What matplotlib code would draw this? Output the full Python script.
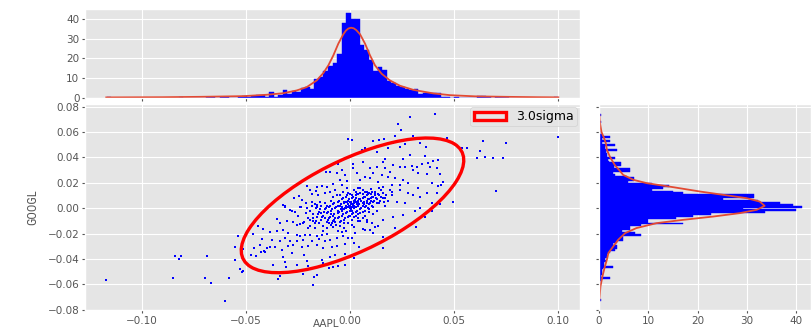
import numpy as np
import matplotlib
matplotlib.use("Agg")
import matplotlib.pyplot as plt
from matplotlib.patches import Ellipse
from matplotlib import font_manager

# ---------------- data ----------------
# scatter points (AAPL return, GOOGL return)
outlier_pts = [
    (-0.117, -0.057), (-0.084, -0.038), (-0.082, -0.040), (-0.081, -0.038), (-0.085, -0.055),
    (-0.0686, -0.038), (-0.0696, -0.055), (-0.0669, -0.059), (-0.058, -0.055), (-0.060, -0.0735),
    (-0.055, -0.041), (-0.0536, -0.0223), (-0.053, -0.048), (-0.0518, -0.050), (-0.055, -0.0304),
    (0.1000, 0.0563), (0.0747, 0.0516), (0.0701, 0.0139), (0.0640, 0.0527), (0.0624, 0.0451),
    (0.0648, 0.0401), (0.0608, 0.0393), (0.0688, 0.0393), (0.0733, 0.0393), (0.0536, 0.0477),
    (0.0560, 0.0477), (0.0496, 0.0047), (-0.0176, -0.0603), (-0.0157, -0.0529),
]
upper_left_pts = [
    (-0.0008, 0.0542), (-0.0056, 0.0346), (-0.0040, 0.0301), (-0.0064, 0.0275), (-0.0096, 0.0288),
    (-0.0115, 0.0283), (-0.0024, 0.0262), (-0.0013, 0.0215), (-0.0048, 0.0223), (-0.0040, 0.0183),
    (-0.0083, 0.0194), (-0.0112, 0.0170), (-0.0136, 0.0176), (-0.0160, 0.0170), (-0.0163, 0.0136),
    (-0.0192, 0.0144), (-0.0205, 0.0176), (-0.0184, 0.0110), (-0.0152, 0.0105), (-0.0120, 0.0118),
    (-0.0096, 0.0126), (-0.0072, 0.0144), (-0.0061, 0.0105), (-0.0032, 0.0131), (-0.0016, 0.0157),
    (-0.0243, 0.0097), (-0.0269, 0.0079), (-0.0232, 0.0066), (-0.0211, 0.0039), (-0.0184, 0.0045),
    (-0.0160, 0.0026), (-0.0144, 0.0052), (-0.0320, 0.0026), (-0.0312, 0.0013), (-0.0240, 0.0013),
]
upper_right_pts = [
    (0.0408, 0.0741), (0.0288, 0.0718), (0.0232, 0.0663), (0.0245, 0.0616), (0.0216, 0.0571),
    (0.0165, 0.0545), (0.0141, 0.0540), (0.0112, 0.0529), (0.0304, 0.0571), (0.0336, 0.0516),
    (0.0376, 0.0550), (0.0467, 0.0550), (0.0365, 0.0485), (0.0208, 0.0511), (0.0184, 0.0477),
    (0.0240, 0.0485), (0.0264, 0.0503), (0.0072, 0.0477), (0.0056, 0.0459), (0.0088, 0.0459),
    (0.0128, 0.0440), (0.0008, 0.0537), (0.0288, 0.0419), (0.0360, 0.0414), (0.0256, 0.0385),
    (0.0168, 0.0385), (0.0064, 0.0362), (0.0016, 0.0346), (0.0013, 0.0320), (0.0160, 0.0367),
    (0.0208, 0.0341), (0.0240, 0.0328), (0.0264, 0.0322), (0.0296, 0.0335), (0.0320, 0.0328),
    (0.0344, 0.0346), (0.0376, 0.0354), (0.0397, 0.0372), (0.0424, 0.0380), (0.0384, 0.0328),
    (0.0416, 0.0320), (0.0096, 0.0320), (0.0128, 0.0328), (0.0168, 0.0314), (0.0192, 0.0288),
    (0.0304, 0.0301), (0.0328, 0.0275), (0.0368, 0.0270), (0.0432, 0.0267), (0.0448, 0.0210),
    (0.0392, 0.0196), (0.0424, 0.0178), (0.0435, 0.0183), (0.0328, 0.0157), (0.0416, 0.0118),
    (0.0368, 0.0118), (0.0280, 0.0118), (0.0240, 0.0144), (0.0200, 0.0131), (0.0160, 0.0170),
    (0.0136, 0.0210), (0.0096, 0.0236), (0.0072, 0.0249), (0.0048, 0.0223), (0.0032, 0.0275),
    (0.0112, 0.0275), (0.0152, 0.0262), (0.0184, 0.0249), (0.0216, 0.0236), (0.0256, 0.0223),
    (0.0280, 0.0196), (0.0240, 0.0183), (0.0200, 0.0183), (0.0304, 0.0105), (0.0336, 0.0084),
    (0.0392, 0.0039), (0.0432, 0.0031), (0.0264, 0.0039), (0.0224, 0.0052), (0.0168, 0.0079),
    (0.0120, 0.0105), (0.0080, 0.0131), (0.0040, 0.0157),
]
lower_left_pts = [
    (-0.0352, -0.0084), (-0.0312, 0.0016), (-0.0288, -0.0013), (-0.0280, -0.0021), (-0.0264, -0.0034),
    (-0.0248, -0.0060), (-0.0237, 0.0013), (-0.0205, 0.0005), (-0.0184, 0.0018), (-0.0163, 0.0),
    (-0.0336, -0.0118), (-0.0304, -0.0105), (-0.0272, -0.0110), (-0.0256, -0.0131), (-0.0240, -0.0126),
    (-0.0224, -0.0118), (-0.0192, -0.0092), (-0.0176, -0.0079), (-0.0440, -0.0144), (-0.0416, -0.0162),
    (-0.0384, -0.0189), (-0.0352, -0.0178), (-0.0320, -0.0170), (-0.0296, -0.0197), (-0.0256, -0.0210),
    (-0.0240, -0.0223), (-0.0216, -0.0215), (-0.0192, -0.0210), (-0.0160, -0.0223), (-0.0136, -0.0215),
    (-0.0112, -0.0204), (-0.0464, -0.0204), (-0.0424, -0.0244), (-0.0376, -0.0249), (-0.0336, -0.0262),
    (-0.0312, -0.0236), (-0.0288, -0.0262), (-0.0256, -0.0257), (-0.0224, -0.0249), (-0.0184, -0.0262),
    (-0.0147, -0.0244), (-0.0120, -0.0262), (-0.0096, -0.0249), (-0.0064, -0.0236), (-0.0032, -0.0223),
    (-0.0008, -0.0236), (-0.0512, -0.0320), (-0.0461, -0.0314), (-0.0432, -0.0288), (-0.0411, -0.0335),
    (-0.0384, -0.0309), (-0.0360, -0.0309), (-0.0328, -0.0328), (-0.0296, -0.0301), (-0.0272, -0.0288),
    (-0.0232, -0.0309), (-0.0200, -0.0301), (-0.0160, -0.0288), (-0.0128, -0.0314), (-0.0088, -0.0309),
    (-0.0064, -0.0301), (-0.0024, -0.0283), (-0.0475, -0.0372), (-0.0408, -0.0348), (-0.0320, -0.0385),
    (-0.0280, -0.0354), (-0.0221, -0.0372), (-0.0208, -0.0414), (-0.0136, -0.0406), (-0.0096, -0.0388),
    (-0.0072, -0.0367), (-0.0024, -0.0362), (-0.0312, -0.0424), (-0.0307, -0.0464), (-0.0256, -0.0445),
    (-0.0200, -0.0453), (-0.0128, -0.0432), (-0.0102, -0.0472), (-0.0080, -0.0466), (-0.0056, -0.0453),
    (-0.0024, -0.0451), (-0.0368, -0.0445), (-0.0336, -0.0537), (-0.0344, -0.0558), (-0.0224, -0.0519),
    (-0.0171, -0.0545), (-0.0512, -0.0498), (-0.0450, -0.0380), (-0.0427, -0.0346), (-0.0400, -0.0315),
]
lower_right_pts = [
    (0.0008, -0.0136), (0.0019, -0.0152), (0.0064, -0.0162), (0.0072, -0.0170), (0.0096, -0.0170),
    (0.0120, -0.0149), (0.0136, -0.0139), (0.0112, -0.0197), (0.0157, -0.0228), (0.0160, -0.0314),
    (0.0216, -0.0157), (0.0315, -0.0152), (0.0256, -0.0052), (0.0312, -0.0026), (0.0336, 0.0005),
    (0.0392, -0.0026), (0.0360, -0.0071), (0.0208, -0.0071), (0.0160, -0.0092), (0.0104, -0.0118),
    (0.0080, -0.0110), (0.0048, -0.0100), (0.0024, -0.0197), (0.0008, -0.0236), (0.0019, -0.0275),
    (0.0045, -0.0309), (0.0019, -0.0393),
]
core_pts = [
    (-0.010, -0.008), (-0.008, -0.006), (-0.006, -0.004), (-0.004, -0.002), (-0.002, 0.000),
    (0.000, 0.002), (0.002, 0.004), (0.004, 0.006), (0.006, 0.008), (0.008, 0.010),
    (-0.011, -0.004), (-0.009, -0.002), (-0.007, 0.000), (-0.005, 0.002), (-0.003, 0.004),
    (-0.001, 0.006), (0.001, 0.008), (0.003, 0.010), (0.005, 0.012),
    (-0.008, -0.010), (-0.006, -0.008), (-0.004, -0.006), (-0.002, -0.004), (0.000, -0.002),
    (0.002, 0.000), (0.004, 0.002), (0.006, 0.004), (0.008, 0.006), (0.010, 0.008), (0.012, 0.010),
    (-0.012, -0.001), (-0.010, 0.001), (-0.008, 0.003), (-0.006, 0.005), (-0.004, 0.007),
    (-0.002, 0.009), (0.000, 0.011),
    (-0.005, -0.011), (-0.003, -0.009), (-0.001, -0.007), (0.001, -0.005), (0.003, -0.003),
    (0.005, -0.001), (0.007, 0.001), (0.009, 0.003), (0.011, 0.005), (0.013, 0.007),
    (-0.001, 0.001), (0.001, 0.003), (0.003, 0.005), (-0.003, -0.001), (0.001, 0.001),
    (0.003, 0.001), (-0.001, 0.003), (0.002, 0.006), (0.000, 0.005), (0.004, 0.004),
    (0.002, 0.002), (-0.002, 0.002), (0.000, 0.000), (0.005, 0.007), (0.007, 0.009),
    (-0.004, 0.001), (0.006, 0.002), (-0.006, -0.002), (0.008, 0.004), (0.010, 0.006),
    (-0.009, -0.005), (0.012, 0.013), (0.009, 0.012), (-0.007, -0.008), (0.006, -0.003),
    (0.004, -0.005), (-0.003, 0.005), (-0.006, 0.002),
    (0.015, 0.009), (0.014, 0.004), (0.011, 0.001), (0.016, 0.012), (-0.013, -0.006),
    (-0.015, -0.003), (-0.014, -0.009), (-0.011, -0.011), (0.007, 0.013), (0.003, 0.013),
    (-0.001, 0.012), (0.018, 0.006), (0.017, 0.002), (0.013, -0.002), (-0.016, 0.001),
    (-0.018, -0.005), (-0.012, 0.004), (-0.009, 0.006), (0.009, -0.003), (0.001, -0.009),
    (-0.003, -0.012), (0.004, -0.008), (0.007, -0.006), (0.011, -0.005),
    (-0.020, -0.008), (-0.017, -0.012), (0.020, 0.010), (0.019, 0.014), (-0.008, 0.009),
    (-0.005, 0.010), (0.014, 0.016), (0.010, 0.015), (0.005, 0.016), (-0.019, -0.002),
    (-0.019, -0.014), (-0.017, -0.016), (-0.015, -0.012), (-0.013, -0.014), (-0.011, -0.016),
    (-0.009, -0.013), (-0.007, -0.011), (-0.005, -0.014), (-0.003, -0.016), (-0.001, -0.012),
    (-0.016, -0.007), (-0.014, -0.004), (-0.012, -0.008), (-0.010, -0.012), (-0.008, -0.015),
    (-0.006, -0.018), (-0.004, -0.019), (-0.002, -0.018), (-0.013, -0.018), (-0.018, -0.010),
    (-0.020, -0.016), (-0.022, -0.011), (-0.021, -0.004), (-0.017, 0.003), (-0.014, 0.002),
    (-0.011, 0.002), (0.002, 0.014), (0.004, 0.011), (0.006, 0.014), (0.008, 0.013),
    (0.010, 0.011), (0.012, 0.012), (0.014, 0.010), (0.016, 0.008), (0.013, 0.004),
    (0.011, 0.009), (0.009, 0.007), (0.015, 0.014), (0.006, 0.011), (0.001, 0.010),
    (0.003, 0.008), (0.001, -0.002), (0.003, -0.006), (0.005, -0.004), (0.007, -0.002),
    (0.002, -0.007), (0.006, -0.008), (0.008, -0.009), (0.009, -0.001), (0.004, -0.010),
    (0.000, -0.006),
]
dense_center_pts = [
    (-0.0095, -0.007), (-0.0075, -0.005), (-0.0055, -0.003), (-0.0035, -0.001), (-0.0015, 0.001),
    (0.0005, 0.003), (0.0025, 0.005), (0.0045, 0.007), (0.0065, 0.009), (0.0085, 0.011),
    (-0.0105, -0.003), (-0.0085, -0.001), (-0.0065, 0.001), (-0.0045, 0.003), (-0.0025, 0.005),
    (-0.0005, 0.007), (0.0015, 0.009), (0.0035, 0.011),
    (-0.0075, -0.009), (-0.0055, -0.007), (-0.0035, -0.005), (-0.0015, -0.003), (0.0005, -0.001),
    (0.0025, 0.001), (0.0045, 0.003), (0.0065, 0.005), (0.0085, 0.007), (0.0105, 0.009),
    (-0.0045, -0.010), (-0.0025, -0.008), (-0.0005, -0.006), (0.0015, -0.004), (0.0035, -0.002),
    (0.0055, 0.000), (0.0075, 0.002), (0.0095, 0.004), (0.0115, 0.006),
    (-0.0115, 0.000), (-0.0095, 0.002), (-0.0075, 0.004), (-0.0055, 0.006), (-0.0035, 0.008),
    (-0.0015, 0.010), (-0.0005, 0.0015), (0.0015, 0.0025), (0.0005, 0.0045), (-0.0025, 0.0005),
    (0.0035, 0.0035), (0.0025, 0.0065), (-0.0015, 0.0045), (0.0055, 0.0055), (-0.0045, -0.0005),
    (0.0065, 0.0035), (-0.0135, -0.007), (-0.0125, -0.003), (-0.0145, -0.001), (0.0125, 0.008),
    (0.0135, 0.011), (0.0145, 0.006), (0.0105, 0.013), (-0.0105, -0.009), (-0.0085, -0.012),
    (0.0085, 0.0005), (0.0105, 0.002), (-0.0065, -0.013), (0.0175, 0.010), (0.0165, 0.005),
    (-0.0165, -0.010), (-0.0155, -0.005),
]

# marginal histogram densities (100 bins over the data range)
aapl_range = (-0.1168, 0.1000)
aapl_density = [
    0.45, 0, 0, 0, 0, 0, 0, 0, 0, 0,
    0, 0, 0, 0, 0, 0, 0.45, 0, 0, 0,
    0, 0, 0.45, 0.45, 0, 0.45, 0.45, 0, 0, 0.45,
    0.9, 0.45, 0.9, 1.4, 1.4, 0.45, 2.6, 0.45, 1.4, 3.9,
    1.7, 3.2, 2.9, 4.6, 5.6, 4.3, 9.2, 10.3, 13.3, 15.9,
    17.6, 22.0, 38.0, 43.0, 40.0, 40.0, 26.7, 24.1, 19.3, 13.5,
    15.4, 13.8, 8.4, 7.4, 6.0, 5.3, 4.3, 3.6, 4.4, 1.9,
    2.4, 2.4, 2.4, 2.4, 0.45, 0.45, 0, 0.45, 0, 0,
    0, 0, 0.9, 0.9, 0.45, 0, 0.45, 0.45, 0.45, 0,
    0, 0, 0, 0, 0, 0, 0, 0, 0, 0.45,
]
googl_range = (-0.0735, 0.0745)
googl_density_top_down = [
    0.5, 0, 0, 0, 0.5, 0, 0, 0, 0, 0.3,
    0.3, 0.7, 2.2, 0.7, 2.2, 0.7, 3.2, 1.2, 1.2, 3.6,
    1.4, 1.6, 1.6, 3.2, 1.9, 2.1, 4.4, 4.4, 3.0, 6.3,
    6.3, 2.8, 3.2, 5.6, 7.0, 7.0, 5.9, 10.7, 14.1, 13.0,
    10.7, 15.0, 17.1, 31.4, 31.4, 25.2, 32.2, 36.7, 39.3, 41.1,
    29.3, 40.0, 33.6, 22.8, 19.1, 15.7, 10.0, 10.0, 17.1, 8.6,
    6.3, 6.3, 4.6, 7.3, 8.6, 4.9, 4.9, 4.9, 3.6, 2.9,
    3.6, 3.6, 3.2, 2.2, 1.9, 1.6, 1.6, 1.2, 1.4, 1.0,
    1.0, 2.8, 0.9, 0.7, 0.7, 0.7, 0.5, 2.2, 0.5, 0.3,
    0.3, 0.3, 0, 0, 0, 0, 0, 0, 0, 0.5,
]

# fitted density curves
aapl_curve_x = [-0.117, -0.09, -0.072, -0.0512, -0.040, -0.032, -0.0256, -0.0208, -0.016,
                -0.0128, -0.0104, -0.008, -0.0056, -0.0032, -0.002, -0.0008, 0.0005, 0.0018,
                0.003, 0.0048, 0.0072, 0.0096, 0.012, 0.0152, 0.0192, 0.024, 0.0304, 0.040,
                0.048, 0.060, 0.075, 0.09, 0.100]
aapl_curve_y = [0.05, 0.15, 0.35, 0.7, 1.4, 2.2, 3.6, 5.3, 8.7,
                12.5, 16.4, 21.5, 27.5, 32.3, 34.1, 35.2, 35.6, 35.3,
                34.4, 32.3, 27.5, 21.5, 16.4, 12.1, 8.7, 6.0, 3.9, 2.1,
                1.2, 0.6, 0.35, 0.15, 0.08]
googl_curve_y = [0.0734, 0.067, 0.060, 0.0555, 0.051, 0.046, 0.0406, 0.034, 0.030, 0.0262,
                 0.0223, 0.0197, 0.0165, 0.0131, 0.0105, 0.0079, 0.0052, 0.0018, -0.0013,
                 -0.0039, -0.0066, -0.0092, -0.0118, -0.0157, -0.0197, -0.0249, -0.0301,
                 -0.0354, -0.0406, -0.0459, -0.0537, -0.0616, -0.072]
googl_curve_x = [0.07, 0.2, 0.5, 1.0, 1.4, 1.6, 2.2, 3.2, 4.1, 4.9,
                 7.0, 9.7, 15.1, 20.5, 25.2, 29.9, 32.6, 33.6, 32.0,
                 28.6, 23.2, 17.1, 11.7, 7.6, 5.3, 3.9, 2.9,
                 1.9, 1.6, 1.2, 0.7, 0.3, 0.07]

# covariance ellipse statistics
mean_aapl, mean_googl = 0.0012, 0.0022
std_aapl, std_googl = 0.0178, 0.0177
corr = 0.67
n_sigma = 3.0

# ---------------- figure ----------------
plt.style.use("ggplot")
plt.rcParams["font.family"] = ["DejaVu Sans"]

installed = {f.name for f in font_manager.fontManager.ttflist}
narrow = [f for f in ("Liberation Sans Narrow", "Roboto Condensed", "DejaVu Sans Condensed") if f in installed]
ylabel_family = narrow + ["DejaVu Sans"]

fig = plt.figure(figsize=(8.11, 3.30), dpi=100)
ax = fig.add_axes([0.1048, 0.0606, 0.6104, 0.6242])
ax_top = fig.add_axes([0.1048, 0.7045, 0.6104, 0.2682], sharex=ax)
ax_right = fig.add_axes([0.7386, 0.0606, 0.2614, 0.6242], sharey=ax)

pts = (outlier_pts + upper_left_pts + upper_right_pts + lower_left_pts + lower_right_pts
       + core_pts + dense_center_pts)
xs = np.array([p[0] for p in pts])
ys = np.array([p[1] for p in pts])
ax.scatter(xs, ys, s=4.5, marker="s", color="b", linewidths=0, zorder=3)

cov = np.array([[std_aapl ** 2, corr * std_aapl * std_googl],
                [corr * std_aapl * std_googl, std_googl ** 2]])
vals, vecs = np.linalg.eigh(cov)
angle = np.degrees(np.arctan2(vecs[1, 1], vecs[0, 1]))
ell = Ellipse((mean_aapl, mean_googl), 2 * n_sigma * np.sqrt(vals[1]), 2 * n_sigma * np.sqrt(vals[0]),
              angle=angle, facecolor="none", edgecolor="red", linewidth=2.4, zorder=4,
              label=f"{n_sigma}sigma")
ax.add_patch(ell)
leg = ax.legend(loc="upper right", fontsize=9, borderpad=0.25, handlelength=2.6,
                handleheight=0.6, borderaxespad=0.25, framealpha=0.8)
leg.get_frame().set_edgecolor("#cccccc")

ax.set_xlim(-0.1272, 0.1104)
ax.set_ylim(-0.0803, 0.0821)
ax.set_xticks([-0.10, -0.05, 0.00, 0.05, 0.10])
ax.set_yticks([-0.08, -0.06, -0.04, -0.02, 0.00, 0.02, 0.04, 0.06, 0.08])
xl = ax.set_xlabel("AAPL", fontsize=7.5)
xl.set_verticalalignment("bottom")
ax.xaxis.set_label_coords(0.487, -0.094)
ax.set_ylabel("GOOGL", fontsize=9, labelpad=6, family=ylabel_family)

# top marginal
edges_a = np.linspace(aapl_range[0], aapl_range[1], len(aapl_density) + 1)
ax_top.bar(edges_a[:-1], aapl_density, width=np.diff(edges_a), align="edge",
           color="b", edgecolor="b", linewidth=0.3)
ax_top.plot(aapl_curve_x, aapl_curve_y, color="#E24A33", linewidth=1.3)
ax_top.set_ylim(0, 45.15)
ax_top.set_yticks([0, 10, 20, 30, 40])
ax_top.tick_params(labelbottom=False)

# right marginal
edges_g = np.linspace(googl_range[0], googl_range[1], len(googl_density_top_down) + 1)
googl_density = googl_density_top_down[::-1]
ax_right.barh(edges_g[:-1], googl_density, height=np.diff(edges_g), align="edge",
              color="b", edgecolor="b", linewidth=0.3)
ax_right.plot(googl_curve_x, googl_curve_y, color="#E24A33", linewidth=1.3)
ax_right.set_xlim(0, 43.0)
ax_right.set_xticks([0, 10, 20, 30, 40])
ax_right.tick_params(labelleft=False)

for a in (ax, ax_top, ax_right):
    a.tick_params(labelsize=7.5, colors="#555555", length=2.5, pad=1.5)

fig.savefig("out.png", dpi=100)
